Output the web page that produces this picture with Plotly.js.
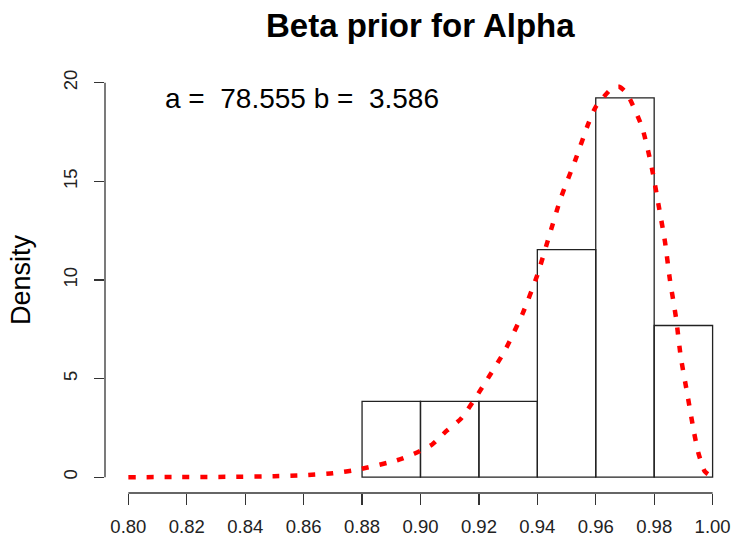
<!DOCTYPE html>
<html>
<head>
<meta charset="utf-8">
<script src="https://cdn.plot.ly/plotly-3.0.1.min.js"></script>
<style>
  html, body { margin: 0; padding: 0; background: #fff; }
  #plot { width: 731px; height: 543px; }
</style>
</head>
<body>
<div id="plot"></div>
<script>
// histogram of the alpha samples (R hist, freq = FALSE)
const binStarts = [0.88, 0.90, 0.92, 0.94, 0.96, 0.98];
const binCounts = [2, 2, 2, 6, 10, 4];
const binWidth = 0.02;

// beta(78.555, 3.586) density
const curveX = [0.800, 0.815, 0.835, 0.850, 0.860, 0.870, 0.879, 0.892, 0.898, 0.904,
                0.909, 0.914, 0.922, 0.929, 0.935, 0.940, 0.944, 0.948, 0.953, 0.9575,
                0.960, 0.9655, 0.968, 0.9706, 0.9758, 0.979, 0.9814, 0.9837, 0.9854, 0.9875,
                0.9891, 0.9914, 0.9937, 0.9951, 0.9974, 1.000];
const curveY = [0.00, 0.01, 0.02, 0.05, 0.10, 0.20, 0.40, 0.86, 1.20, 1.66,
                2.36, 2.99, 4.76, 6.45, 8.31, 10.25, 12.2, 14.14, 16.08, 17.94,
                18.78, 19.71, 19.80, 19.46, 17.77, 15.83, 13.89, 11.94, 10.0, 8.06,
                6.11, 4.17, 2.23, 1.25, 0.28, 0.00];

const xTicks = [0.80, 0.82, 0.84, 0.86, 0.88, 0.90, 0.92, 0.94, 0.96, 0.98, 1.00];
const yTicks = [0, 5, 10, 15, 20];

const nTotal = binCounts.reduce((s, c) => s + c, 0);
const density = binCounts.map(c => c / (nTotal * binWidth));
const binMids = binStarts.map(s => s + binWidth / 2);

const FONT = '"Liberation Sans", Arial, sans-serif';
const AXCOL = '#333';

const bars = {
  type: 'bar',
  x: binMids,
  y: density,
  width: binWidth,
  marker: { color: 'rgba(0,0,0,0)', line: { color: '#222', width: 1.3 } },
  hoverinfo: 'skip'
};

const curve = {
  type: 'scatter',
  mode: 'lines',
  x: curveX,
  y: curveY,
  line: { color: '#ff0000', width: 4.5, dash: '7px,11px', shape: 'spline', smoothing: 0.6 },
  hoverinfo: 'skip'
};

const layout = {
  width: 731,
  height: 543,
  margin: { l: 105, r: 0, t: 67, b: 50 },
  paper_bgcolor: '#fff',
  plot_bgcolor: '#fff',
  showlegend: false,
  font: { family: FONT, color: '#000' },
  title: {
    text: '<b>Beta prior for Alpha</b>',
    font: { family: FONT, size: 33, color: '#000' },
    x: 0.575, xanchor: 'center',
    y: 0.953, yanchor: 'middle'
  },
  xaxis: {
    range: [0.792, 1.0063],
    tickvals: xTicks,
    tickformat: '.2f',
    ticks: 'outside', ticklen: 11, tickwidth: 1.3, tickcolor: AXCOL,
    ticklabelstandoff: 6,
    tickfont: { family: FONT, size: 18.5, color: '#222' },
    showgrid: false, zeroline: false, showline: false
  },
  yaxis: {
    range: [-0.8, 20.8],
    tickvals: yTicks,
    ticks: 'outside', ticklen: 10, tickwidth: 1.3, tickcolor: AXCOL,
    tickangle: -90,
    ticklabelstandoff: 10,
    tickfont: { family: FONT, size: 18.5, color: '#222' },
    showgrid: false, zeroline: false, showline: false,
    title: { text: 'Density', font: { family: FONT, size: 27, color: '#000' }, standoff: 21 }
  },
  shapes: [
    { type: 'line', xref: 'paper', yref: 'y', x0: 0, x1: 0, y0: 0, y1: 20,
      line: { color: AXCOL, width: 1.3 } },
    { type: 'line', xref: 'x', yref: 'paper', x0: 0.80, x1: 1.00, y0: 0, y1: 0,
      line: { color: AXCOL, width: 1.3 } }
  ],
  annotations: [
    { x: 0.8596, y: 19.2, xref: 'x', yref: 'y', showarrow: false,
      text: 'a =\u00a0\u00a078.555 b =\u00a0\u00a03.586',
      font: { family: FONT, size: 28, color: '#000' },
      xanchor: 'center', yanchor: 'middle' }
  ]
};

Plotly.newPlot('plot', [bars, curve], layout, { displayModeBar: false, staticPlot: true });
</script>
</body>
</html>
